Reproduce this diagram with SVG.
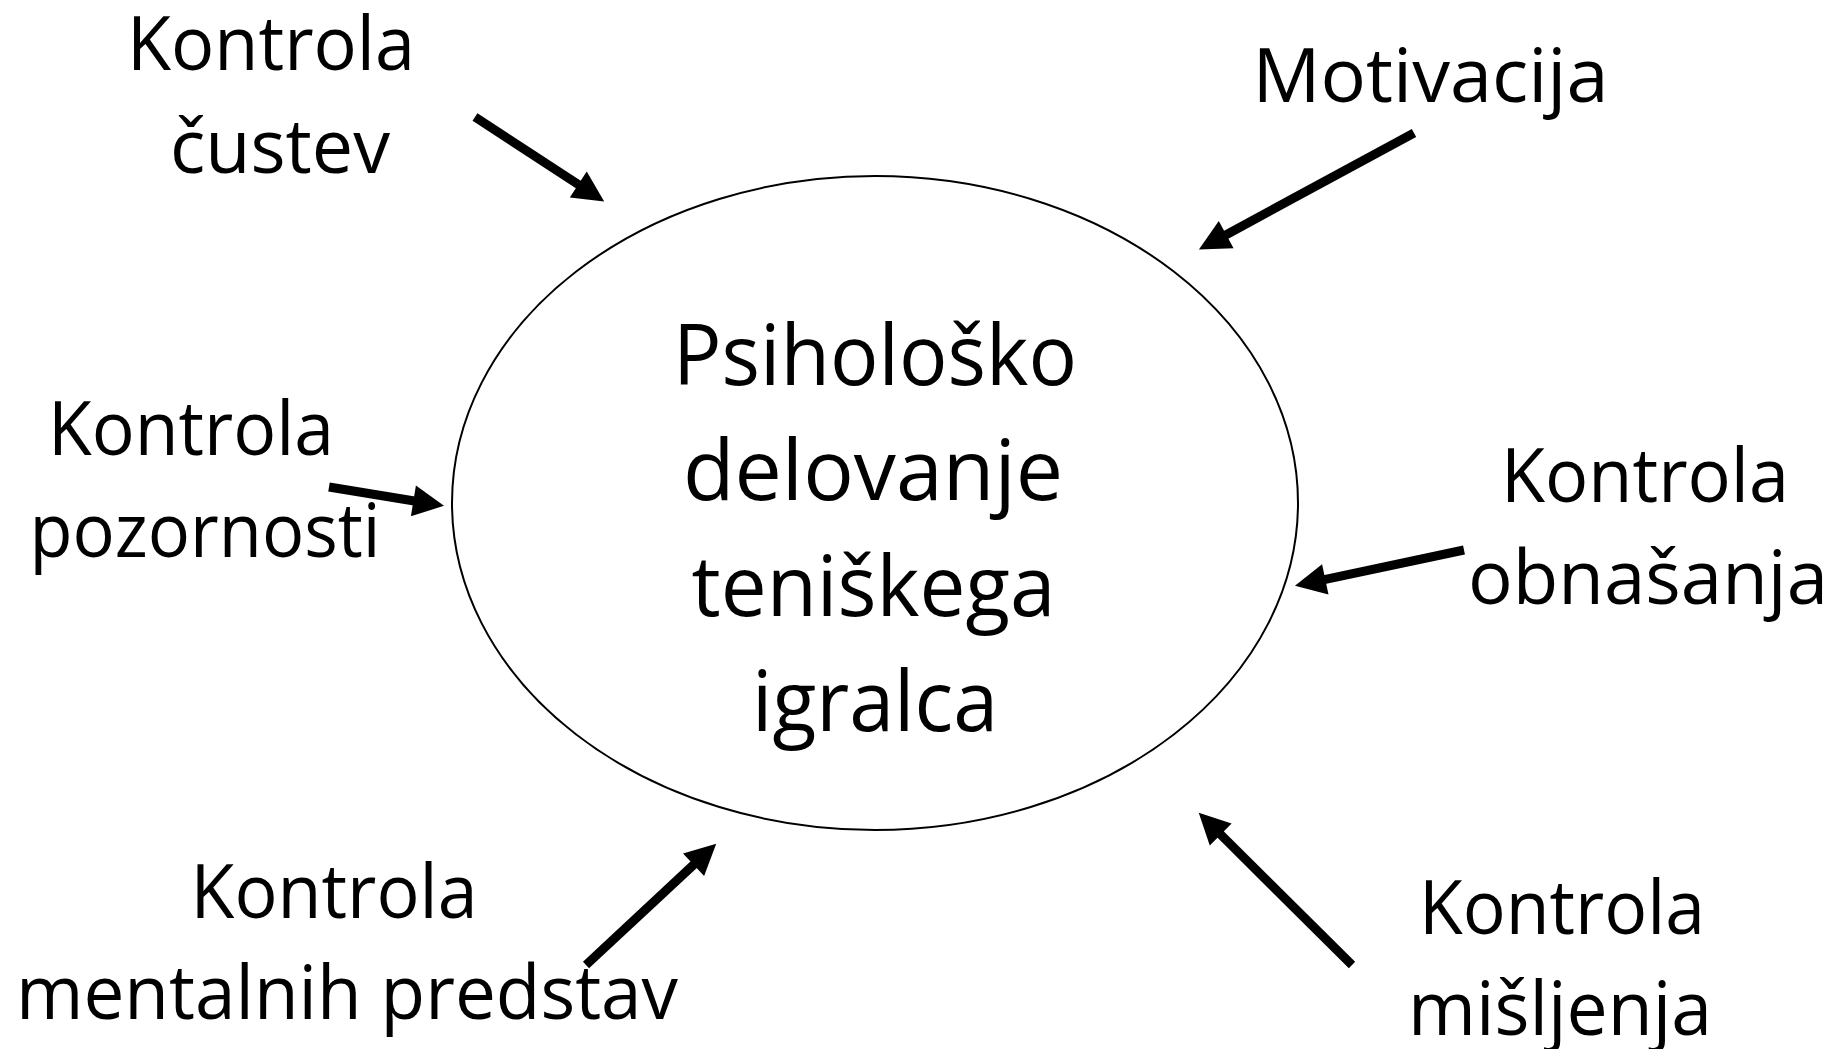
<svg xmlns="http://www.w3.org/2000/svg" width="1835" height="1049" viewBox="0 0 1835 1049">
<style>
  text { font-family: "Open Sans", "Noto Sans", "DejaVu Sans", sans-serif; fill: #000; text-anchor: middle; }
  .lbl { font-size: 75px; }
  .ctr { font-size: 84px; }
  .conn { stroke: #000; stroke-width: 9; fill: none; marker-end: url(#ah); }
</style>
<defs>
  <marker id="ah" markerUnits="userSpaceOnUse" markerWidth="32" markerHeight="31" refX="1" refY="15.5" orient="auto" overflow="visible">
    <path d="M0,0 L31,15.5 L0,31 z" fill="#000"/>
  </marker>
</defs>
<rect width="1835" height="1049" fill="#fff"/>
<g id="center">
  <ellipse cx="875" cy="503" rx="423" ry="327" fill="#fff" stroke="#000" stroke-width="2"/>
  <text class="ctr" x="875" y="385" textLength="404" lengthAdjust="spacingAndGlyphs">Psihološko</text>
  <text class="ctr" x="873" y="500" textLength="380" lengthAdjust="spacingAndGlyphs">delovanje</text>
  <text class="ctr" x="873.5" y="616" textLength="364" lengthAdjust="spacingAndGlyphs">teniškega</text>
  <text class="ctr" x="875" y="731" textLength="246" lengthAdjust="spacingAndGlyphs">igralca</text>
</g>
<g id="custev">
  <text class="lbl" x="271" y="70" textLength="288" lengthAdjust="spacingAndGlyphs">Kontrola</text>
  <text class="lbl" x="280" y="173" textLength="220" lengthAdjust="spacingAndGlyphs">čustev</text>
</g>
<g id="motivacija">
  <text class="lbl" x="1430.5" y="102" textLength="356" lengthAdjust="spacingAndGlyphs">Motivacija</text>
</g>
<g id="pozornost">
  <text class="lbl" x="191" y="455" textLength="286" lengthAdjust="spacingAndGlyphs">Kontrola</text>
  <text class="lbl" x="205" y="557" textLength="351" lengthAdjust="spacingAndGlyphs">pozornosti</text>
</g>
<g id="obnasanje">
  <text class="lbl" x="1645" y="502" textLength="288" lengthAdjust="spacingAndGlyphs">Kontrola</text>
  <text class="lbl" x="1648" y="604" textLength="360" lengthAdjust="spacingAndGlyphs">obnašanja</text>
</g>
<g id="predstave">
  <text class="lbl" x="334" y="918" textLength="287" lengthAdjust="spacingAndGlyphs">Kontrola</text>
  <text class="lbl" x="347" y="1019" textLength="662" lengthAdjust="spacingAndGlyphs">mentalnih predstav</text>
</g>
<g id="misljenje">
  <text class="lbl" x="1562" y="934" textLength="286" lengthAdjust="spacingAndGlyphs">Kontrola</text>
  <text class="lbl" x="1560" y="1035" textLength="304" lengthAdjust="spacingAndGlyphs">mišljenja</text>
</g>
<g id="connectors">
  <line class="conn" x1="475" y1="117" x2="579.1" y2="185"/>
  <line class="conn" x1="1414" y1="133" x2="1225.3" y2="235.2"/>
  <line class="conn" x1="329" y1="487" x2="414.4" y2="501"/>
  <line class="conn" x1="1464" y1="550" x2="1324.3" y2="579.6"/>
  <line class="conn" x1="586" y1="965" x2="694.3" y2="864.1"/>
  <line class="conn" x1="1352" y1="965" x2="1220" y2="833.9"/>
</g>
</svg>
